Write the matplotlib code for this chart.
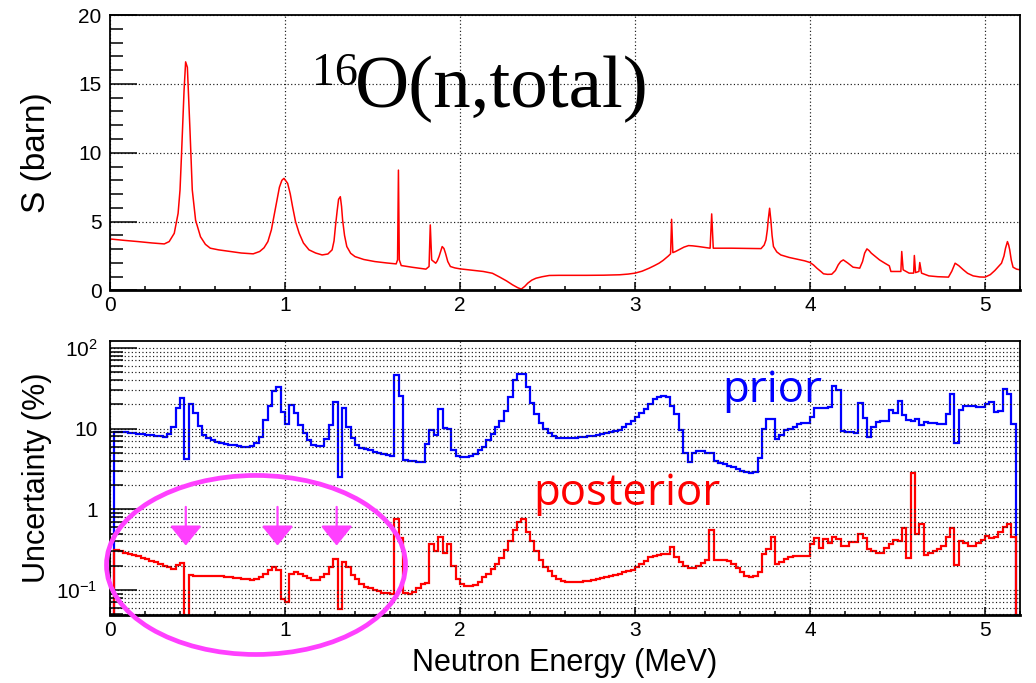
import numpy as np
import matplotlib
matplotlib.use("Agg")
import matplotlib.pyplot as plt
from matplotlib.patches import Ellipse
from matplotlib.ticker import MultipleLocator, FixedLocator, FixedFormatter, LogLocator, NullFormatter

plt.rcParams["font.family"] = ["Liberation Sans", "DejaVu Sans"]
plt.rcParams["mathtext.fontset"] = "custom"
plt.rcParams["mathtext.rm"] = "Liberation Sans"
plt.rcParams["mathtext.it"] = "Liberation Sans:italic"

# --- top panel: 16O total cross section (barn) ---
sigma_E = [0.0, 0.08, 0.16, 0.24, 0.31, 0.338, 0.367, 0.389, 0.400, 0.408,
           0.416, 0.423, 0.432, 0.442, 0.450, 0.457, 0.47, 0.489, 0.517, 0.545,
           0.573, 0.62, 0.686, 0.75, 0.818, 0.855, 0.88, 0.902, 0.922, 0.94,
           0.955, 0.968, 0.982, 0.994, 1.015, 1.03, 1.043, 1.06, 1.081, 1.105,
           1.137, 1.175, 1.212, 1.245, 1.269, 1.28, 1.288, 1.298, 1.306, 1.316,
           1.323, 1.329, 1.34, 1.353, 1.375, 1.40, 1.45, 1.513, 1.58, 1.635,
           1.643, 1.648, 1.653, 1.664, 1.73, 1.805, 1.823, 1.83, 1.838, 1.861,
           1.87, 1.88, 1.898, 1.908, 1.917, 1.93, 1.945, 1.97, 2.0, 2.07,
           2.133, 2.185, 2.227, 2.265, 2.30, 2.33, 2.35, 2.37, 2.387, 2.41,
           2.434, 2.47, 2.51, 2.566, 2.65, 2.724, 2.82, 2.912, 2.96, 3.0,
           3.04, 3.081, 3.11, 3.137, 3.16, 3.175, 3.19, 3.203, 3.209, 3.216,
           3.23, 3.25, 3.28, 3.306, 3.33, 3.363, 3.40, 3.429, 3.438, 3.447,
           3.50, 3.55, 3.62, 3.72, 3.738, 3.748, 3.756, 3.761, 3.769, 3.776,
           3.783, 3.791, 3.81, 3.833, 3.88, 3.927, 3.97, 4.0, 4.02, 4.039,
           4.06, 4.077, 4.10, 4.124, 4.145, 4.161, 4.175, 4.19, 4.215, 4.246,
           4.284, 4.30, 4.312, 4.325, 4.337, 4.35, 4.375, 4.397, 4.425, 4.453,
           4.462, 4.50, 4.519, 4.524, 4.532, 4.566, 4.592, 4.596, 4.603, 4.622,
           4.627, 4.637, 4.679, 4.73, 4.791, 4.81, 4.829, 4.85, 4.876, 4.90,
           4.932, 4.97, 5.0, 5.03, 5.056, 5.094, 5.108, 5.117, 5.128, 5.135,
           5.141, 5.150, 5.160, 5.18, 5.2]
sigma_b = [3.74, 3.64, 3.55, 3.45, 3.38, 3.55, 4.15, 5.6, 7.3, 9.7,
           12.3, 14.5, 16.6, 16.2, 13.8, 11.6, 7.3, 5.1, 3.9, 3.35,
           3.07, 2.95, 2.83, 2.72, 2.66, 2.83, 3.1, 3.55, 4.4, 5.6,
           6.6, 7.5, 8.0, 8.14, 7.78, 7.0, 6.09, 5.0, 4.15, 3.45,
           2.95, 2.72, 2.58, 2.65, 2.95, 3.6, 4.64, 5.8, 6.62, 6.81,
           6.1, 5.12, 4.0, 3.19, 2.7, 2.46, 2.25, 2.10, 2.0, 1.93,
           2.22, 8.74, 2.22, 1.81, 1.68, 1.55, 1.74, 4.76, 2.22, 1.98,
           2.15, 2.46, 3.19, 3.05, 2.7, 2.1, 1.74, 1.64, 1.57, 1.47,
           1.38, 1.25, 0.97, 0.7, 0.41, 0.2, 0.1, 0.3, 0.53, 0.75,
           0.89, 1.0, 1.09, 1.10, 1.10, 1.10, 1.11, 1.14, 1.19, 1.26,
           1.40, 1.62, 1.8, 1.98, 2.18, 2.34, 2.5, 2.66, 5.17, 2.75,
           2.82, 2.95, 3.15, 3.26, 3.24, 3.19, 3.12, 3.07, 5.56, 3.07,
           3.07, 3.07, 3.06, 3.04, 3.3, 3.67, 4.4, 5.12, 5.97, 5.12,
           4.0, 3.19, 2.8, 2.58, 2.4, 2.27, 2.15, 2.03, 1.85, 1.62,
           1.4, 1.21, 1.17, 1.18, 1.45, 1.86, 2.1, 2.22, 2.0, 1.69,
           1.62, 2.1, 2.71, 3.02, 2.9, 2.71, 2.45, 2.22, 2.0, 1.79,
           1.38, 1.38, 1.38, 2.83, 1.5, 1.26, 1.26, 2.54, 1.3, 1.38,
           2.03, 1.26, 1.06, 1.0, 0.97, 1.4, 1.98, 1.8, 1.5, 1.25,
           1.06, 0.98, 0.97, 1.15, 1.45, 1.98, 2.5, 3.07, 3.55, 3.3,
           2.95, 2.2, 1.69, 1.55, 1.5]

# --- bottom panel: uncertainties (%) in 25 keV bins, 0 - 5.2 MeV ---
bin_width = 0.025
prior = [0, 9.1, 9.1, 9.0, 8.9, 8.8, 8.6, 8.5, 8.4, 8.3,
         8.2, 8.0, 7.8, 8.6, 10.5, 18, 24, 4.2, 20, 15.5,
         10.7, 8.3, 7.6, 7.2, 6.9, 6.7, 6.5, 6.3, 6.2, 6.1,
         6.0, 5.95, 6.1, 6.7, 7.9, 12.8, 19.2, 29, 33, 16,
         11.5, 19.5, 15.8, 11.2, 8.7, 7.2, 6.3, 6.1, 6.1, 7.4,
         11, 21.5, 2.5, 17.8, 10.6, 7.6, 6.2, 5.8, 5.6, 5.4,
         5.2, 5.0, 4.85, 4.7, 4.55, 46, 25.5, 4.1, 4.0, 3.95,
         3.9, 3.85, 6.4, 9.6, 8.3, 17.4, 10.1, 9.8, 5.5, 4.6,
         4.4, 4.4, 4.6, 4.9, 5.4, 6.0, 7.2, 8.6, 10.6, 12.5,
         16.7, 25, 40, 47, 48, 33, 21, 15.2, 11.8, 9.9,
         8.9, 8.1, 7.7, 7.6, 7.6, 7.6, 7.7, 7.8, 7.9, 8.0,
         8.2, 8.3, 8.5, 8.8, 9.0, 9.3, 9.6, 10.4, 11.4, 12.4,
         13.8, 15.5, 17.5, 20.2, 23, 25, 25.6, 24.5, 19.2, 15.2,
         9.6, 4.95, 3.9, 4.95, 5.3, 5.3, 4.95, 5.0, 4.0, 3.8,
         3.6, 3.45, 3.3, 3.15, 3.0, 2.9, 2.85, 2.9, 4.3, 10,
         13, 13, 7.4, 8.4, 9.6, 10, 10.5, 11.3, 11.6, 11.8,
         13.8, 17.9, 17.9, 18.0, 18.5, 33.8, 30, 9.4, 9.2, 9.0,
         8.8, 20.6, 13.5, 7.9, 10.6, 12.2, 12.6, 12.6, 16.9, 15.4,
         21.8, 14.9, 12.8, 12.4, 13.2, 11.1, 12.2, 11.8, 11.8, 11.5,
         11.3, 15.2, 27, 6.7, 17, 19.1, 18.8, 18.8, 18.7, 18.7,
         20, 21.6, 16, 16.7, 31, 27, 11.4, 0]
posterior = [0, 0.31, 0.30, 0.29, 0.28, 0.27, 0.26, 0.25, 0.24, 0.23,
             0.22, 0.21, 0.20, 0.19, 0.18, 0.205, 0.215, 0.03, 0.153, 0.149,
             0.149, 0.150, 0.150, 0.150, 0.149, 0.147, 0.145, 0.143, 0.141, 0.139,
             0.137, 0.135, 0.134, 0.136, 0.143, 0.160, 0.176, 0.190, 0.175, 0.077,
             0.070, 0.158, 0.165, 0.158, 0.148, 0.140, 0.134, 0.134, 0.143, 0.160,
             0.190, 0.240, 0.058, 0.225, 0.195, 0.154, 0.136, 0.120, 0.110, 0.105,
             0.100, 0.096, 0.093, 0.091, 0.089, 0.76, 0.44, 0.091, 0.090, 0.095,
             0.105, 0.120, 0.123, 0.37, 0.30, 0.45, 0.29, 0.37, 0.20, 0.136,
             0.120, 0.112, 0.111, 0.115, 0.127, 0.143, 0.160, 0.180, 0.210, 0.247,
             0.31, 0.40, 0.56, 0.70, 0.76, 0.53, 0.40, 0.30, 0.236, 0.195,
             0.170, 0.150, 0.137, 0.130, 0.127, 0.125, 0.125, 0.126, 0.128, 0.130,
             0.133, 0.137, 0.140, 0.144, 0.148, 0.152, 0.158, 0.165, 0.172, 0.179,
             0.191, 0.210, 0.231, 0.255, 0.265, 0.272, 0.276, 0.280, 0.339, 0.255,
             0.221, 0.197, 0.186, 0.186, 0.200, 0.216, 0.236, 0.56, 0.236, 0.234,
             0.232, 0.227, 0.210, 0.186, 0.165, 0.150, 0.144, 0.148, 0.165, 0.280,
             0.323, 0.451, 0.210, 0.225, 0.243, 0.255, 0.260, 0.262, 0.265, 0.267,
             0.37, 0.44, 0.335, 0.43, 0.385, 0.46, 0.425, 0.35, 0.35, 0.39,
             0.39, 0.50, 0.44, 0.32, 0.30, 0.29, 0.29, 0.33, 0.37, 0.42,
             0.40, 0.59, 0.25, 2.85, 0.50, 0.65, 0.275, 0.287, 0.30, 0.32,
             0.35, 0.45, 0.59, 0.205, 0.40, 0.38, 0.35, 0.35, 0.38, 0.42,
             0.465, 0.44, 0.46, 0.53, 0.60, 0.66, 0.45, 0]

arrow_E = [0.433, 0.957, 1.295]      # highlighted resonances
arrow_from, arrow_to = 1.07, 0.355   # arrow span in %

y_tick_vals = [0.1, 1, 10, 100]
y_tick_labels = ["$10^{-1}$", "1", "10", "$10^{2}$"]

RED = "#ff0000"
BLUE = "#0000ff"
MAGENTA = "#ff40ff"
GRID = dict(color="#1a1a1a", linestyle=(0, (1, 2)), linewidth=0.85)


def style_axis(ax, ypad):
    ax.set_xlim(0, 5.2)
    ax.xaxis.set_major_locator(MultipleLocator(1))
    ax.xaxis.set_minor_locator(MultipleLocator(0.2))
    ax.tick_params(axis="both", which="both", direction="in", top=False, right=False,
                   labelsize=15, width=1.1, color="black")
    ax.tick_params(axis="x", which="major", length=6, pad=4)
    ax.tick_params(axis="x", which="minor", length=3)
    ax.tick_params(axis="y", which="major", length=19.5, pad=ypad)
    ax.tick_params(axis="y", which="minor", length=9.7)
    for s in ax.spines.values():
        s.set_linewidth(1.3)
    ax.spines["bottom"].set_linewidth(2)
    ax.xaxis.grid(True, which="major", **GRID)


fig = plt.figure(figsize=(10.36, 6.83), dpi=100)
ax1 = fig.add_axes([0.1062, 0.5747, 0.8784, 0.4033])
ax2 = fig.add_axes([0.1062, 0.0996, 0.8784, 0.4016])

# top
ax1.plot(sigma_E, sigma_b, color=RED, lw=1.1)
style_axis(ax1, 6)
ax1.set_ylim(0, 20)
ax1.yaxis.set_major_locator(MultipleLocator(5))
ax1.yaxis.set_minor_locator(MultipleLocator(1))
ax1.yaxis.grid(True, which="major", **GRID)
ax1.set_ylabel("S (barn)", fontsize=24)
ax1.yaxis.set_label_coords(-0.064, 0.5)

# bottom
edges = np.arange(len(prior) + 1) * bin_width
pr = np.where(np.array(prior) > 0, prior, 1e-3)
po = np.where(np.array(posterior) > 0, posterior, 1e-3)
ax2.stairs(pr, edges, baseline=None, color=BLUE, lw=1.6)
ax2.stairs(po, edges, baseline=None, color=RED, lw=1.6)
ax2.set_yscale("log")
ax2.set_ylim(0.049, 123)
style_axis(ax2, 9)
ax2.yaxis.set_major_locator(FixedLocator(y_tick_vals))
ax2.yaxis.set_major_formatter(FixedFormatter(y_tick_labels))
ax2.yaxis.set_minor_locator(LogLocator(base=10, subs=np.arange(2, 10)))
ax2.yaxis.set_minor_formatter(NullFormatter())
ax2.yaxis.grid(True, which="both", **GRID)
ax2.set_ylabel("Uncertainty (%)", fontsize=22)
ax2.yaxis.set_label_coords(-0.064, 0.5)
ax2.set_xlabel("Neutron Energy (MeV)", fontsize=22)
ax2.xaxis.set_label_coords(0.5, -0.12)

for e in arrow_E:
    ax2.annotate("", xy=(e, arrow_to), xytext=(e, arrow_from),
                 arrowprops=dict(arrowstyle="-|>,head_length=0.62,head_width=0.5",
                                 color=MAGENTA, lw=1.6, mutation_scale=20,
                                 shrinkA=0, shrinkB=0), zorder=6)

# annotations
fig.text(0.301, 0.8755, "16", fontsize=33, family="Liberation Serif", va="baseline")
fig.text(0.3425, 0.8433, "O(n,total)", fontsize=54, family="Liberation Serif", va="baseline")
fig.text(0.697, 0.4114, "prior", fontsize=31.5, family="Open Sans", color=BLUE, va="baseline")
fig.text(0.5145, 0.2606, "posterior", fontsize=31.5, family="Open Sans", color=RED, va="baseline")

fig.add_artist(Ellipse((0.2471, 0.1728), 0.2886, 0.2621, transform=fig.transFigure,
                       fill=False, edgecolor=MAGENTA, lw=3.4, zorder=10))

fig.savefig("out.png", dpi=100)
